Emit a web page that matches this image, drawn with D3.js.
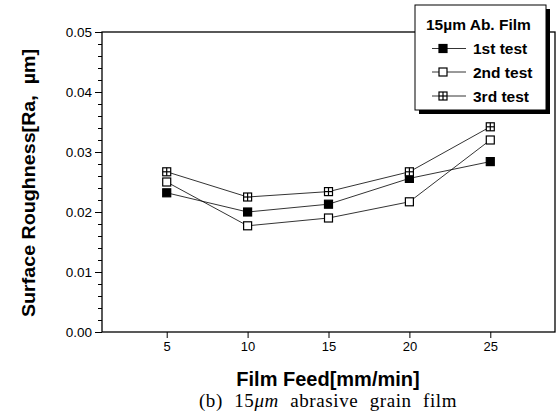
<!DOCTYPE html>
<html><head><meta charset="utf-8">
<script src="https://cdn.jsdelivr.net/npm/d3@7"></script>
<style>body{margin:0;background:#fff}svg{display:block}</style>
</head><body>
<script>
const feed = [5, 10, 15, 20, 25];
const test1 = [0.0232, 0.0200, 0.0213, 0.0256, 0.0284];
const test2 = [0.0250, 0.0177, 0.0190, 0.0217, 0.0320];
const test3 = [0.0267, 0.0225, 0.0234, 0.0267, 0.0342];
const seriesNames = ["1st test", "2nd test", "3rd test"];
const yTicks = [0.00, 0.01, 0.02, 0.03, 0.04, 0.05];
const xTicks = [5, 10, 15, 20, 25];
const legendTitle = "15\u00b5m Ab. Film";

const W = 558, H = 417;
const svg = d3.select("body").append("svg").attr("width", W).attr("height", H);
const x = d3.scaleLinear().domain([1, 29]).range([102, 555]);
const y = d3.scaleLinear().domain([0, 0.05]).range([332, 32]);
const sans = "'Liberation Sans', Arial, sans-serif";

// frame
svg.append("rect").attr("x", x(1)).attr("y", y(0.05)).attr("width", x(29) - x(1)).attr("height", y(0) - y(0.05))
  .attr("fill", "none").attr("stroke", "#000").attr("stroke-width", 1.3);

// y axis
const yAxis = d3.axisLeft(y).tickValues(yTicks).tickFormat(d3.format(".2f")).tickSize(7).tickPadding(3);
const gy = svg.append("g").attr("transform", `translate(${x(1)},0)`).call(yAxis);
gy.select(".domain").remove();
gy.selectAll("text").attr("font-family", sans).attr("font-size", 13.5).attr("fill", "#000");
const minorY = d3.range(0, 0.0501, 0.002).filter(v => Math.abs(v * 100 - Math.round(v * 100)) > 1e-6);
const gym = svg.append("g").attr("transform", `translate(${x(1)},0)`).call(d3.axisLeft(y).tickValues(minorY).tickFormat("").tickSize(4));
gym.select(".domain").remove();

// x axis
const xAxis = d3.axisBottom(x).tickValues(xTicks).tickSize(6).tickPadding(4);
const gx = svg.append("g").attr("transform", `translate(0,${y(0)})`).call(xAxis);
gx.select(".domain").remove();
gx.selectAll("text").attr("font-family", sans).attr("font-size", 13).attr("fill", "#000");

// lines
const allSeries = [test1, test2, test3];
const line = d3.line().x((d, i) => x(feed[i])).y(d => y(d));
allSeries.forEach(s => {
  svg.append("path").attr("d", line(s)).attr("fill", "none").attr("stroke", "#000").attr("stroke-width", 0.8);
});

const MS = 8;
function marker(g, cx, cy, k) {
  g.append("rect").attr("x", cx - MS / 2).attr("y", cy - MS / 2).attr("width", MS).attr("height", MS)
    .attr("fill", k === 0 ? "#000" : "#fff").attr("stroke", "#000").attr("stroke-width", 1.2);
  if (k === 2) {
    g.append("line").attr("x1", cx - MS / 2).attr("x2", cx + MS / 2).attr("y1", cy).attr("y2", cy).attr("stroke", "#000").attr("stroke-width", 1.2);
    g.append("line").attr("x1", cx).attr("x2", cx).attr("y1", cy - MS / 2).attr("y2", cy + MS / 2).attr("stroke", "#000").attr("stroke-width", 1.2);
  }
}
const gm = svg.append("g");
allSeries.forEach((s, k) => s.forEach((v, i) => marker(gm, x(feed[i]), y(v), k)));

// legend
const lg = svg.append("g");
const lx = 415, ly = 5, lw = 131, lh = 105;
lg.append("rect").attr("x", lx + 4).attr("y", ly + 4).attr("width", lw).attr("height", lh).attr("fill", "#000");
lg.append("rect").attr("x", lx).attr("y", ly).attr("width", lw).attr("height", lh).attr("fill", "#fff").attr("stroke", "#000").attr("stroke-width", 1);
lg.append("text").attr("x", 426).attr("y", 30).attr("font-family", sans).attr("font-size", 15.5).attr("font-weight", "bold").text(legendTitle);
const rowY = [48.5, 72, 96];
seriesNames.forEach((n, k) => {
  lg.append("line").attr("x1", 432).attr("x2", 466).attr("y1", rowY[k]).attr("y2", rowY[k]).attr("stroke", "#000").attr("stroke-width", 0.8);
  marker(lg, 443, rowY[k], k);
  lg.append("text").attr("x", 473).attr("y", rowY[k] + 5.5).attr("font-family", sans).attr("font-size", 15.5).attr("font-weight", "bold").text(n);
});

// axis titles
svg.append("text").attr("transform", `translate(35,183) rotate(-90)`).attr("text-anchor", "middle")
  .attr("font-family", sans).attr("font-size", 18).attr("font-weight", "bold").attr("textLength", 268).attr("lengthAdjust", "spacingAndGlyphs")
  .text("Surface Roughness[Ra,\u00a0\u00a0\u00b5m]");
svg.append("text").attr("x", 328).attr("y", 386).attr("text-anchor", "middle")
  .attr("font-family", sans).attr("font-size", 20).attr("font-weight", "bold").text("Film Feed[mm/min]");
const cap = svg.append("text").attr("x", 328).attr("y", 407).attr("text-anchor", "middle")
  .attr("font-family", "'Liberation Serif', 'DejaVu Serif', serif").attr("font-size", 19).attr("word-spacing", 6).attr("letter-spacing", 0.6);
cap.append("tspan").text("(b) 15");
cap.append("tspan").attr("font-style", "italic").text("\u03bcm");
cap.append("tspan").text(" abrasive grain film");
</script>
</body></html>
